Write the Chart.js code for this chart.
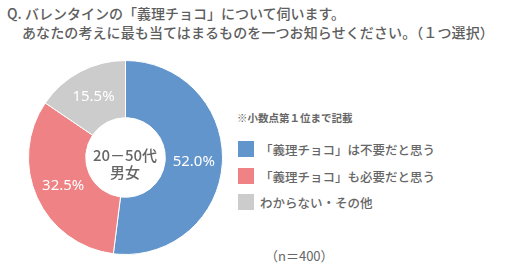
<!DOCTYPE html>
<html>
<head>
<meta charset="utf-8">
<script src="https://cdn.jsdelivr.net/npm/chart.js@4"></script>
<style>
  body { margin: 0; width: 511px; height: 278px; background: #fff; position: relative; overflow: hidden;
         font-family: "Noto Sans CJK JP", sans-serif; color: #666; }
  .t { position: absolute; white-space: nowrap; }
  #q1 { left: 7px; top: 3px; font-size: 14px; font-weight: 500; color: #5e5e5e; }
  #q2 { left: 22px; top: 22px; font-size: 14px; font-weight: 500; color: #5e5e5e; letter-spacing: 0.1px; }
  #note { left: 237px; top: 110px; font-size: 10.5px; font-weight: bold; }
  #n { left: 265px; top: 246px; font-size: 13px; }
  #chartBox { position: absolute; left: 28px; top: 60px; width: 195px; height: 195px; }
  #center { position: absolute; left: 75px; top: 146px; width: 100px; text-align: center;
            font-size: 15px; font-weight: 500; line-height: 17px; }
  .leg { position: absolute; left: 238px; font-size: 12.5px; white-space: nowrap; }
  .leg span { position: absolute; left: 0; top: 0; width: 16px; height: 16px; }
  .leg b { position: absolute; left: 22px; top: -1px; font-weight: 500; }
</style>
</head>
<body>
<div class="t" id="q1">Q. バレンタインの「義理チョコ」について伺います。</div>
<div class="t" id="q2">あなたの考えに最も当てはまるものを一つお知らせください。（１つ選択）</div>
<div id="chartBox"><canvas id="chart1"></canvas></div>
<div id="center">20－50代<br>男女</div>
<div class="t" id="note">※小数点第１位まで記載</div>
<div id="legend"></div>
<div class="t" id="n">（n＝400）</div>
<script>
const categories = ['「義理チョコ」は不要だと思う', '「義理チョコ」も必要だと思う', 'わからない・その他'];
const shares = [52.0, 32.5, 15.5];
const colors = ['#6395cd', '#ee8285', '#cccccc'];

// legend built from the same arrays
const legend = document.getElementById('legend');
const legendTops = [141, 168, 194];
categories.forEach((c, i) => {
  const row = document.createElement('div');
  row.className = 'leg';
  row.style.top = legendTops[i] + 'px';
  row.innerHTML = '<span style="background:' + colors[i] + '"></span><b>' + c + '</b>';
  legend.appendChild(row);
});

const pctLabels = {
  id: 'pctLabels',
  afterDatasetsDraw(chart) {
    const ctx = chart.ctx;
    const meta = chart.getDatasetMeta(0);
    ctx.save();
    ctx.fillStyle = '#fff';
    ctx.font = '15px "Noto Sans", sans-serif';
    ctx.textAlign = 'center';
    ctx.textBaseline = 'middle';
    meta.data.forEach((arc, i) => {
      const p = arc.tooltipPosition();
      ctx.fillText(shares[i].toFixed(1) + '%', p.x, p.y);
    });
    ctx.restore();
  }
};

const ctx1 = document.getElementById('chart1');

new Chart(ctx1, {
  type: 'doughnut',
  data: {
    labels: categories,
    datasets: [{
      data: shares,
      backgroundColor: colors,
      borderColor: '#fff',
      borderWidth: 1,
    }],
  },
  options: {
    responsive: true,
    maintainAspectRatio: false,
    animation: false,
    cutout: '41%',
    layout: { padding: 0 },
    plugins: {
      legend: { display: false },
      tooltip: { enabled: false },
    },
  },
  plugins: [pctLabels],
});
</script>
</body>
</html>
